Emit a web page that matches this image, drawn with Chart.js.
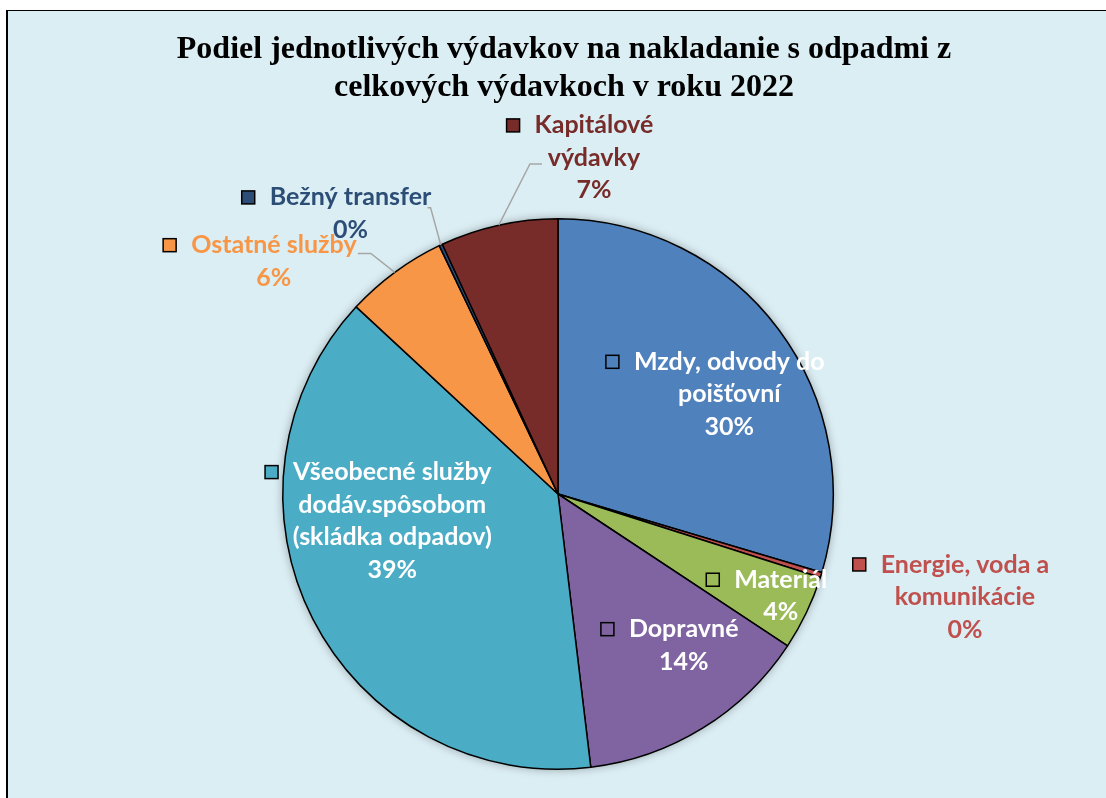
<!DOCTYPE html>
<html lang="sk">
<head>
<meta charset="utf-8">
<title>Podiel výdavkov na nakladanie s odpadmi 2022</title>
<script src="https://cdn.jsdelivr.net/npm/chart.js@4.4.1/dist/chart.umd.min.js"></script>
<style>
  html, body { margin: 0; padding: 0; background: #fff; }
  body { width: 1106px; height: 798px; position: relative; overflow: hidden; }
  #panel {
    position: absolute; left: 6px; top: 10px; right: 0; bottom: 0;
    background: #dbeef4; border-left: 2px solid #000; border-top: 1px solid #000;
  }
  #graf { position: absolute; left: 0; top: 0; }
</style>
</head>
<body>
<div id="panel"></div>
<canvas id="graf" width="1106" height="798"></canvas>
<script>
// kategórie a podiely (%) odčítané z grafu
const kategorie = [
  "Mzdy, odvody do poišťovní",
  "Energie, voda a komunikácie",
  "Materiál",
  "Dopravné",
  "Všeobecné služby dodáv.spôsobom (skládka odpadov)",
  "Ostatné služby",
  "Bežný transfer",
  "Kapitálové výdavky"
];
const podiely = [29.6, 0.3, 4.4, 13.8, 38.8, 6.0, 0.2, 6.9];

// riadky popisov tak, ako sú zalomené v obrázku
const popisy = [
  ["Mzdy, odvody do", "poišťovní"],
  ["Energie, voda a", "komunikácie"],
  ["Materiál"],
  ["Dopravné"],
  ["Všeobecné služby", "dodáv.spôsobom", "(skládka odpadov)"],
  ["Ostatné služby"],
  ["Bežný transfer"],
  ["Kapitálové", "výdavky"]
];

const titulok = ["Podiel jednotlivých výdavkov na nakladanie s odpadmi z", "celkových výdavkoch v roku 2022"];

const farby = ["#4f81bd", "#c0504d", "#9bbb59", "#8064a2", "#4bacc6", "#f79646", "#2c4d75", "#772c2a"];
const farbyTextu = ["#ffffff", "#c0504d", "#ffffff", "#ffffff", "#ffffff", "#f79646", "#2c4d75", "#772c2a"];

// umiestnenie popisov: uhol od vrchu (stupne, v smere hodín) a vzdialenosť ako násobok polomeru
const umiestnenie = [
  { a: 59.8, r: 0.72 },
  { a: 104.2, r: 1.525 },
  { a: 114.6, r: 0.89 },
  { a: 140.3, r: 0.715 },
  { a: 260.8, r: 0.61 },
  { a: 309.3, r: 1.334, ciara: { x: 84, y: -8, lakt: 13 } },
  { a: 323.5, r: 1.267, ciara: { x: 77, y: -6, lakt: 3 } },
  { a: 6.1, r: 1.228, ciara: { x: -52, y: 6, lakt: 12 } }
];

const PISMO = "bold 25px Lato, 'Open Sans', sans-serif";
const RIADOK = 32.5;

const tienPlugin = {
  id: "tien",
  beforeDatasetsDraw(chart) {
    const arc = chart.getDatasetMeta(0).data[0];
    if (!arc) return;
    const ctx = chart.ctx;
    ctx.save();
    ctx.shadowColor = "rgba(0,0,0,0.35)";
    ctx.shadowBlur = 10;
    ctx.fillStyle = "#dbeef4";
    ctx.beginPath();
    ctx.arc(arc.x, arc.y, arc.outerRadius, 0, Math.PI * 2);
    ctx.fill();
    ctx.restore();
  }
};

const titulokPlugin = {
  id: "titulok",
  afterDraw(chart) {
    const ctx = chart.ctx;
    ctx.save();
    ctx.font = "bold 32px 'Liberation Serif', 'Times New Roman', serif";
    ctx.fillStyle = "#000";
    ctx.textAlign = "center";
    ctx.textBaseline = "middle";
    ctx.fillText(titulok[0], 564, 50);
    ctx.fillText(titulok[1], 564, 88);
    ctx.restore();
  }
};

const popisyPlugin = {
  id: "popisy",
  afterDatasetsDraw(chart) {
    const ctx = chart.ctx;
    const spolu = podiely.reduce((s, v) => s + v, 0);
    chart.getDatasetMeta(0).data.forEach((arc, i) => {
      const p = umiestnenie[i];
      const uhol = (p.a - 90) * Math.PI / 180;
      const cx = arc.x + Math.cos(uhol) * arc.outerRadius * p.r;
      const cy = arc.y + Math.sin(uhol) * arc.outerRadius * p.r;
      const riadky = [...popisy[i], Math.round(podiely[i] / spolu * 100) + "%"];

      ctx.save();
      // spojovacia čiara
      if (p.ciara) {
        const stred = (arc.startAngle + arc.endAngle) / 2;
        const ox = arc.x + Math.cos(stred) * arc.outerRadius;
        const oy = arc.y + Math.sin(stred) * arc.outerRadius;
        const kx = cx + p.ciara.x;
        const ky = cy + p.ciara.y;
        const lx = kx + Math.sign(ox - kx) * p.ciara.lakt;
        ctx.strokeStyle = "#a6a6a6";
        ctx.lineWidth = 1.5;
        ctx.beginPath();
        ctx.moveTo(ox, oy);
        ctx.lineTo(lx, ky);
        ctx.lineTo(kx, ky);
        ctx.stroke();
      }

      ctx.font = PISMO;
      ctx.fillStyle = farbyTextu[i];
      ctx.textAlign = "center";
      ctx.textBaseline = "middle";
      const y0 = cy - (riadky.length - 1) / 2 * RIADOK;
      riadky.forEach((t, k) => ctx.fillText(t, cx, y0 + k * RIADOK));

      // štvorček legendy pred prvým riadkom
      const w = ctx.measureText(riadky[0]).width;
      const sx = cx - w / 2 - 15 - 13;
      ctx.fillStyle = farby[i];
      ctx.strokeStyle = "#000";
      ctx.lineWidth = 1.5;
      ctx.fillRect(sx, y0 - 6.5, 13, 13);
      ctx.strokeRect(sx, y0 - 6.5, 13, 13);
      ctx.restore();
    });
  }
};

function init() {
  new Chart(document.getElementById("graf"), {
    type: "pie",
    data: {
      labels: kategorie,
      datasets: [{
        data: podiely,
        backgroundColor: farby,
        borderColor: "#000",
        borderWidth: 1.5,
        hoverOffset: 0
      }]
    },
    options: {
      responsive: false,
      animation: false,
      layout: { padding: { top: 218, bottom: 28, left: 10, right: 0 } },
      plugins: {
        legend: { display: false },
        title: { display: false },
        tooltip: { enabled: false }
      }
    },
    plugins: [tienPlugin, popisyPlugin, titulokPlugin]
  });
}

if (document.readyState === "loading") {
  document.addEventListener("DOMContentLoaded", init);
} else {
  init();
}
</script>
</body>
</html>
